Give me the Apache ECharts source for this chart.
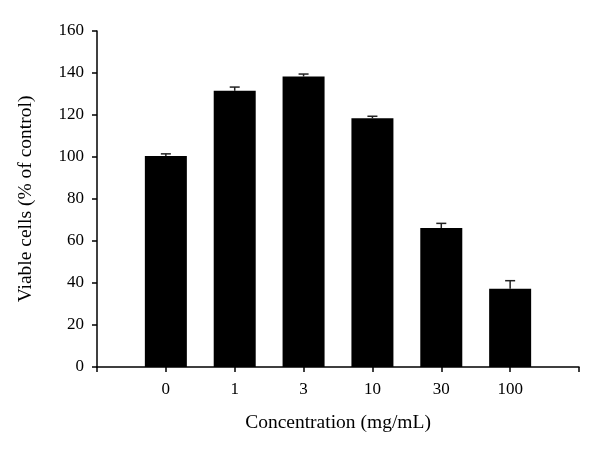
<!DOCTYPE html>
<html>
<head>
<meta charset="utf-8">
<script src="https://cdn.jsdelivr.net/npm/echarts@6/dist/echarts.min.js"></script>
<style>
  html, body { margin: 0; padding: 0; background: #fff; }
</style>
</head>
<body>
<div id="chart" style="width:600px;height:451px"></div>
<script>
// concentrations (empty slot at each end so the axis runs past the bars)
var categories = ['', '0', '1', '3', '10', '30', '100', ''];
var viable = ['-', 100.5, 131.5, 138.3, 118.4, 66.2, 37.3, '-'];
var errs = [0, 1, 1.8, 1.2, 1, 2.2, 3.8, 0];
var yTicks = [0, 20, 40, 60, 80, 100, 120, 140, 160];

var chart = echarts.init(document.getElementById('chart'));

var errData = [];
for (var i = 0; i < categories.length; i++) {
    if (viable[i] !== '-') errData.push([i, viable[i], viable[i] + errs[i]]);
}

var font = 'Liberation Serif';

chart.setOption({
    animation: false,
    grid: { left: 97, right: 21, top: 31, bottom: 84 },
    xAxis: {
        type: 'category',
        data: categories,
        boundaryGap: false,
        name: 'Concentration (mg/mL)',
        nameLocation: 'middle',
        nameGap: 46,
        nameTextStyle: { fontFamily: font, fontSize: 19.5, color: '#000' },
        axisLine: { lineStyle: { color: '#000', width: 1.5 } },
        axisTick: { show: true, length: 5, lineStyle: { color: '#000', width: 1.5 } },
        axisLabel: { fontFamily: font, fontSize: 17, color: '#000', margin: 14, interval: 0 },
        splitLine: { show: false }
    },
    yAxis: {
        type: 'value',
        min: yTicks[0],
        max: yTicks[yTicks.length - 1],
        interval: 20,
        name: 'Viable cells (% of control)',
        nameLocation: 'middle',
        nameGap: 61,
        nameTextStyle: { fontFamily: font, fontSize: 19.5, color: '#000' },
        axisLine: { show: true, lineStyle: { color: '#000', width: 1.5 } },
        axisTick: { show: true, length: 5, lineStyle: { color: '#000', width: 1.5 } },
        axisLabel: { fontFamily: font, fontSize: 17, color: '#000', margin: 13 },
        splitLine: { show: false }
    },
    series: [
        {
            type: 'bar',
            data: viable,
            barWidth: 42,
            itemStyle: { color: '#000' }
        },
        {
            type: 'custom',
            data: errData,
            z: 3,
            renderItem: function (params, api) {
                var x = api.value(0);
                var lo = api.coord([x, api.value(1)]);
                var hi = api.coord([x, api.value(2)]);
                var style = { stroke: '#222', lineWidth: 1.5 };
                return {
                    type: 'group',
                    children: [
                        { type: 'line', shape: { x1: lo[0], y1: lo[1], x2: hi[0], y2: hi[1] }, style: style },
                        { type: 'line', shape: { x1: hi[0] - 5, y1: hi[1], x2: hi[0] + 5, y2: hi[1] }, style: style }
                    ]
                };
            }
        }
    ]
});
</script>
</body>
</html>
